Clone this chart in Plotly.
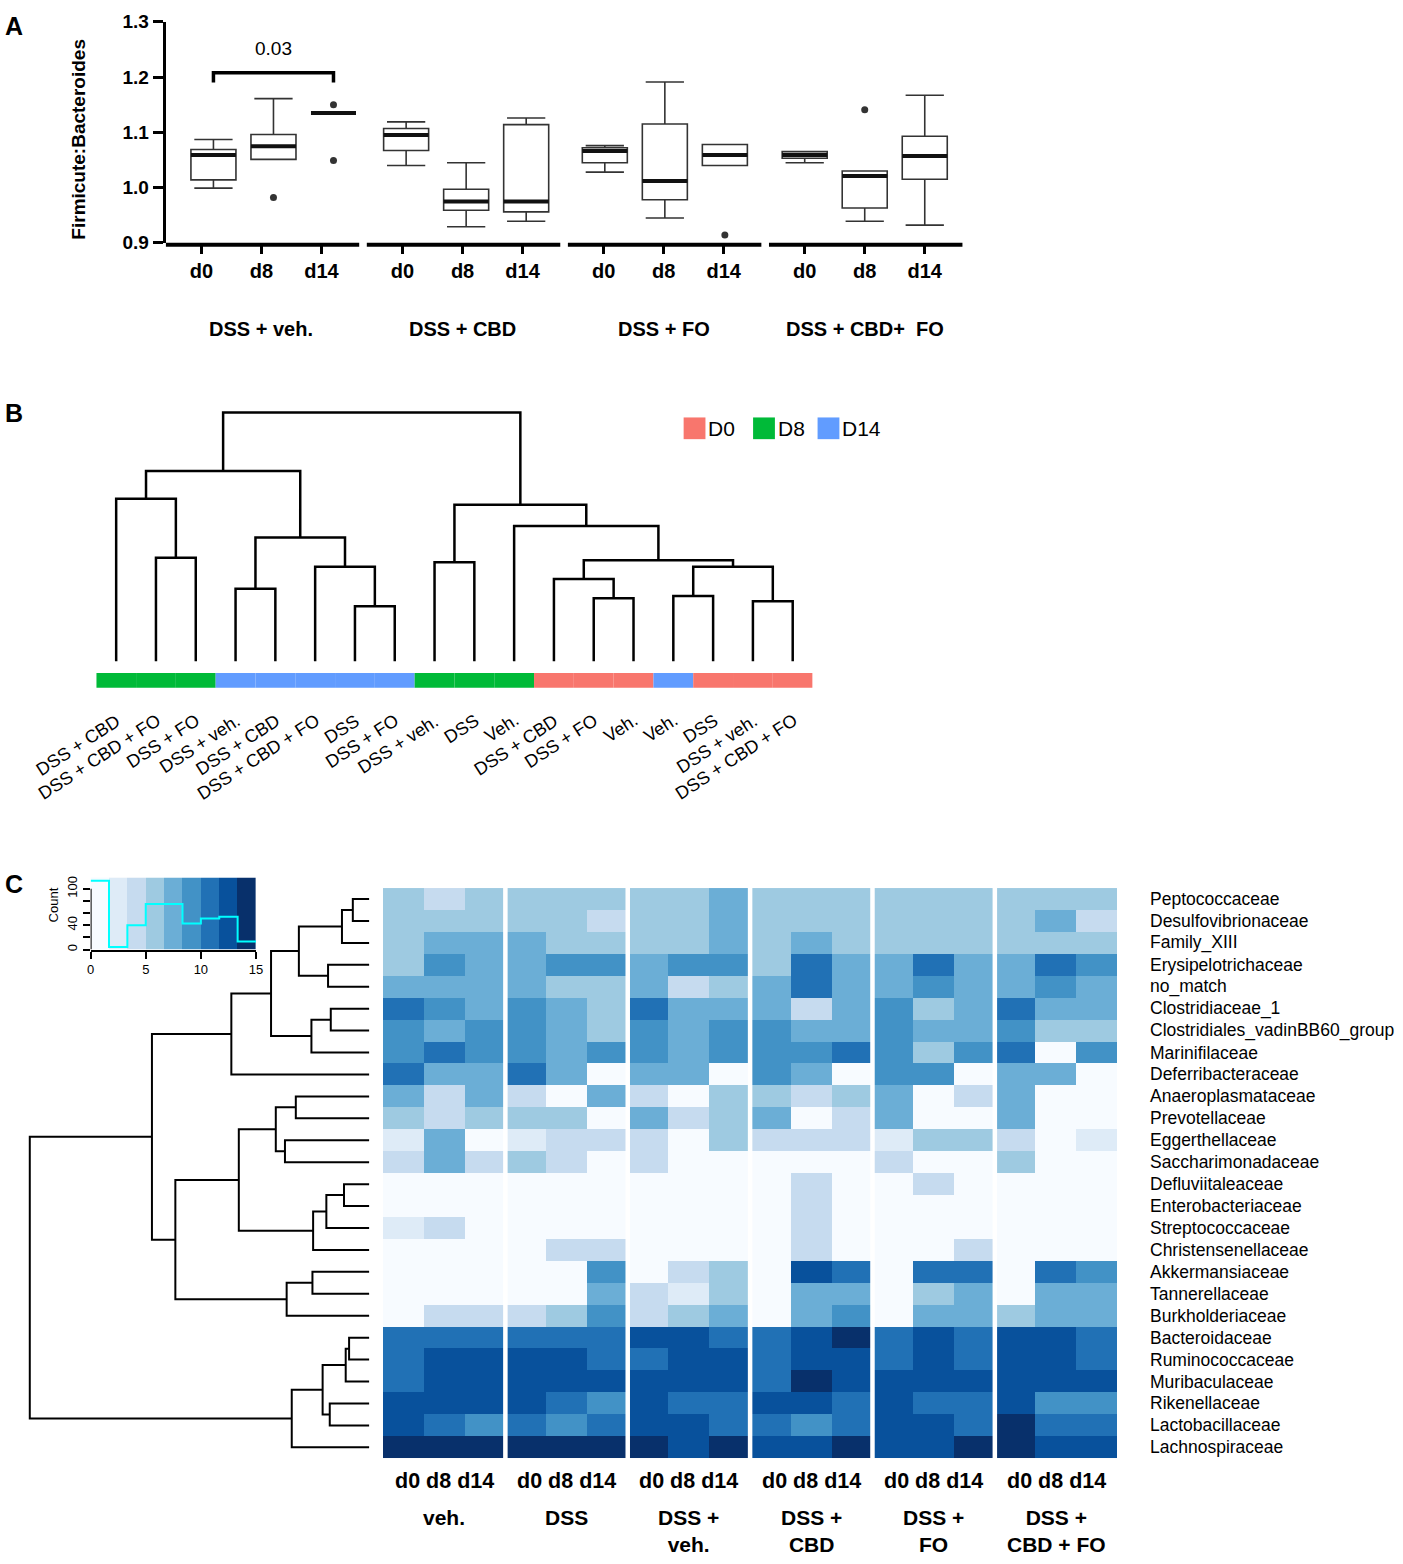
import plotly.graph_objects as go

W, H = 1403, 1564
FONT = "Liberation Sans, Arial, sans-serif"


def px(x):
    return x / W


def py(y):
    return 1 - y / H


# ---------------- Panel A data ----------------
A_groups = ["DSS + veh.", "DSS + CBD", "DSS + FO", "DSS + CBD+\u00a0 FO"]
A_days = ["d0", "d8", "d14"]
A_upper = [1.087, 1.161, 1.135, 1.119, 1.045, 1.126, 1.076, 1.191, 1.078, 1.065, 1.030, 1.167]
A_q3 = [1.069, 1.096, 1.135, 1.107, 0.997, 1.114, 1.072, 1.115, 1.078, 1.065, 1.030, 1.093]
A_median = [1.059, 1.075, 1.135, 1.095, 0.975, 0.975, 1.066, 1.012, 1.059, 1.059, 1.021, 1.057]
A_q1 = [1.014, 1.051, 1.135, 1.067, 0.959, 0.956, 1.045, 0.978, 1.040, 1.053, 0.963, 1.015]
A_lower = [0.999, 1.051, 1.135, 1.040, 0.929, 0.939, 1.028, 0.945, 1.040, 1.045, 0.939, 0.932]
A_outlier_box = [1, 2, 2, 8, 10]
A_outlier_val = [0.982, 1.150, 1.049, 0.914, 1.141]
A_yticks = [0.9, 1.0, 1.1, 1.2, 1.3]
A_pvalue = "0.03"
A_pair = [0, 2]

# ---------------- Panel B data ----------------
B_labels = ["DSS + CBD", "DSS + CBD + FO", "DSS + FO", "DSS + veh.", "DSS + CBD",
            "DSS + CBD + FO", "DSS", "DSS + FO", "DSS + veh.", "DSS", "Veh.",
            "DSS + CBD", "DSS + FO", "Veh.", "Veh.", "DSS", "DSS + veh.", "DSS + CBD + FO"]
B_days = ["D8", "D8", "D8", "D14", "D14", "D14", "D14", "D14", "D8", "D8", "D8",
          "D0", "D0", "D0", "D14", "D0", "D0", "D0"]
B_merge = [(-2, -3), (-1, 1), (-4, -5), (-7, -8), (-6, 4), (3, 5), (2, 6), (-9, -10),
           (-13, -14), (-12, 9), (-15, -16), (-17, -18), (11, 12), (10, 13), (-11, 14),
           (8, 15), (7, 16)]
B_height = [4.16, 6.53, 2.91, 2.21, 3.80, 4.97, 7.65, 3.98, 2.53, 3.30, 2.62, 2.41,
            3.80, 4.06, 5.44, 6.29, 10.0]
B_day_names = ["D0", "D8", "D14"]
B_day_colors = {"D0": "#F8766D", "D8": "#00BA38", "D14": "#619CFF"}

# ---------------- Panel C data ----------------
C_rows = ["Peptococcaceae", "Desulfovibrionaceae", "Family_XIII", "Erysipelotrichaceae",
          "no_match", "Clostridiaceae_1", "Clostridiales_vadinBB60_group", "Marinifilaceae",
          "Deferribacteraceae", "Anaeroplasmataceae", "Prevotellaceae", "Eggerthellaceae",
          "Saccharimonadaceae", "Defluviitaleaceae", "Enterobacteriaceae", "Streptococcaceae",
          "Christensenellaceae", "Akkermansiaceae", "Tannerellaceae", "Burkholderiaceae",
          "Bacteroidaceae", "Ruminococcaceae", "Muribaculaceae", "Rikenellaceae",
          "Lactobacillaceae", "Lachnospiraceae"]
C_groups = ["veh.", "DSS", "DSS +<br>veh.", "DSS +<br>CBD", "DSS +<br>FO", "DSS +<br>CBD + FO"]
C_days = "d0 d8 d14"
# log-abundance values (0-15 scale), columns: 6 groups x (d0, d8, d14)
C_values = [
    [5.8, 4.2, 5.8, 5.8, 5.8, 5.8, 5.8, 5.8, 7.6, 5.8, 5.8, 5.8, 5.8, 5.8, 5.8, 5.8, 5.8, 5.8],
    [5.8, 5.8, 5.8, 5.8, 5.8, 4.2, 5.8, 5.8, 7.6, 5.8, 5.8, 5.8, 5.8, 5.8, 5.8, 5.8, 7.6, 4.2],
    [5.8, 7.6, 7.6, 7.6, 5.8, 5.8, 5.8, 5.8, 7.6, 5.8, 7.6, 5.8, 5.8, 5.8, 5.8, 5.8, 5.8, 5.8],
    [5.8, 9.2, 7.6, 7.6, 9.2, 9.2, 7.6, 9.2, 9.2, 5.8, 10.9, 7.6, 7.6, 10.9, 7.6, 7.6, 10.9, 9.2],
    [7.6, 7.6, 7.6, 7.6, 5.8, 5.8, 7.6, 4.2, 5.8, 7.6, 10.9, 7.6, 7.6, 9.2, 7.6, 7.6, 9.2, 7.6],
    [10.9, 9.2, 7.6, 9.2, 7.6, 5.8, 10.9, 7.6, 7.6, 7.6, 4.2, 7.6, 9.2, 5.8, 7.6, 10.9, 7.6, 7.6],
    [9.2, 7.6, 9.2, 9.2, 7.6, 5.8, 9.2, 7.6, 9.2, 9.2, 7.6, 7.6, 9.2, 7.6, 7.6, 9.2, 5.8, 5.8],
    [9.2, 10.9, 9.2, 9.2, 7.6, 9.2, 9.2, 7.6, 9.2, 9.2, 9.2, 10.9, 9.2, 5.8, 9.2, 10.9, 0.6, 9.2],
    [10.9, 7.6, 7.6, 10.9, 7.6, 0.6, 7.6, 7.6, 0.6, 9.2, 7.6, 0.6, 9.2, 9.2, 0.6, 7.6, 7.6, 0.6],
    [7.6, 4.2, 7.6, 4.2, 0.6, 7.6, 4.2, 0.6, 5.8, 5.8, 4.2, 5.8, 7.6, 0.6, 4.2, 7.6, 0.6, 0.6],
    [5.8, 4.2, 5.8, 5.8, 5.8, 0.6, 7.6, 4.2, 5.8, 7.6, 0.6, 4.2, 7.6, 0.6, 0.6, 7.6, 0.6, 0.6],
    [2.4, 7.6, 0.6, 2.4, 4.2, 4.2, 4.2, 0.6, 5.8, 4.2, 4.2, 4.2, 2.4, 5.8, 5.8, 4.2, 0.6, 2.4],
    [4.2, 7.6, 4.2, 5.8, 4.2, 0.6, 4.2, 0.6, 0.6, 0.6, 0.6, 0.6, 4.2, 0.6, 0.6, 5.8, 0.6, 0.6],
    [0.6, 0.6, 0.6, 0.6, 0.6, 0.6, 0.6, 0.6, 0.6, 0.6, 4.2, 0.6, 0.6, 4.2, 0.6, 0.6, 0.6, 0.6],
    [0.6, 0.6, 0.6, 0.6, 0.6, 0.6, 0.6, 0.6, 0.6, 0.6, 4.2, 0.6, 0.6, 0.6, 0.6, 0.6, 0.6, 0.6],
    [2.4, 4.2, 0.6, 0.6, 0.6, 0.6, 0.6, 0.6, 0.6, 0.6, 4.2, 0.6, 0.6, 0.6, 0.6, 0.6, 0.6, 0.6],
    [0.6, 0.6, 0.6, 0.6, 4.2, 4.2, 0.6, 0.6, 0.6, 0.6, 4.2, 0.6, 0.6, 0.6, 4.2, 0.6, 0.6, 0.6],
    [0.6, 0.6, 0.6, 0.6, 0.6, 9.2, 0.6, 4.2, 5.8, 0.6, 12.6, 10.9, 0.6, 10.9, 10.9, 0.6, 10.9, 9.2],
    [0.6, 0.6, 0.6, 0.6, 0.6, 7.6, 4.2, 2.4, 5.8, 0.6, 7.6, 7.6, 0.6, 5.8, 7.6, 0.6, 7.6, 7.6],
    [0.6, 4.2, 4.2, 4.2, 5.8, 9.2, 4.2, 5.8, 7.6, 0.6, 7.6, 9.2, 0.6, 7.6, 7.6, 5.8, 7.6, 7.6],
    [10.9, 10.9, 10.9, 10.9, 10.9, 10.9, 12.6, 12.6, 10.9, 10.9, 12.6, 14.2, 10.9, 12.6, 10.9, 12.6, 12.6, 10.9],
    [10.9, 12.6, 12.6, 12.6, 12.6, 10.9, 10.9, 12.6, 12.6, 10.9, 12.6, 12.6, 10.9, 12.6, 10.9, 12.6, 12.6, 10.9],
    [10.9, 12.6, 12.6, 12.6, 12.6, 12.6, 12.6, 12.6, 12.6, 10.9, 14.2, 12.6, 12.6, 12.6, 12.6, 12.6, 12.6, 12.6],
    [12.6, 12.6, 12.6, 12.6, 10.9, 9.2, 12.6, 10.9, 10.9, 12.6, 12.6, 10.9, 12.6, 10.9, 10.9, 12.6, 9.2, 9.2],
    [12.6, 10.9, 9.2, 10.9, 9.2, 10.9, 12.6, 12.6, 10.9, 10.9, 9.2, 10.9, 12.6, 12.6, 10.9, 14.2, 10.9, 10.9],
    [14.2, 14.2, 14.2, 14.2, 14.2, 14.2, 14.2, 12.6, 14.2, 12.6, 12.6, 14.2, 12.6, 12.6, 14.2, 14.2, 12.6, 12.6],
]
C_merge = [(-1, -2), (1, -3), (-4, -5), (2, 3), (-6, -7), (5, -8), (4, 6), (7, -9),
           (-10, -11), (-12, -13), (9, 10), (-14, -15), (12, -16), (13, -17), (11, 14),
           (-18, -19), (16, -20), (15, 17), (8, 18), (-21, -22), (20, -23), (-24, -25),
           (21, 22), (23, -26), (19, 24)]
C_height = [0.48, 0.80, 1.21, 2.07, 1.13, 1.70, 2.89, 4.06, 2.16, 2.48, 2.75, 0.74, 1.26,
            1.65, 3.84, 1.67, 2.43, 5.71, 6.40, 0.59, 0.69, 1.16, 1.37, 2.28, 10.0]
KEY_BREAKS = [0, 1.667, 3.333, 5, 6.667, 8.333, 10, 11.667, 13.333, 15]
KEY_COUNTS = [113, 4, 40, 75, 75, 43, 51, 54, 13]
KEY_XTICKS = [0, 5, 10, 15]
KEY_YTICKS = [0, 20, 40, 60, 80, 100]
KEY_YTEXT = ["0", "", "40", "", "", "100"]
BLUES9 = ["#f7fbff", "#deebf7", "#c6dbef", "#9ecae1", "#6baed6",
          "#4292c6", "#2171b5", "#08519c", "#08306b"]

# ---------------- helpers ----------------
def dendro(merges, heights):
    pos, hgt = {}, {}

    def get(ref):
        if ref < 0:
            return -ref - 1, 0.0
        return pos[ref], hgt[ref]

    p_list, h_list = [], []
    for k, ((a, b), h) in enumerate(zip(merges, heights), start=1):
        pa, ha = get(a)
        pb, hb = get(b)
        p_list += [pa, pa, pb, pb, None]
        h_list += [ha, h, h, hb, None]
        pos[k] = (pa + pb) / 2
        hgt[k] = h
    return p_list, h_list


colorscale = []
for k, c in enumerate(BLUES9):
    colorscale.append([k / 9, c])
    colorscale.append([(k + 1) / 9, c])

fig = go.Figure()
shapes = []
ann = []
BLACK = "black"


def note(**kw):
    kw.setdefault("xanchor", "center")
    kw.setdefault("yanchor", "middle")
    kw.setdefault("showarrow", False)
    ann.append(kw)


# ================= Panel A =================
GROUP_STEP = 3.35
UNIT_PX = 60.5
BOX_SHIFT = [0.2, 0.06, 0.02, 0.0]
BOX_W = 0.75
tick_x = [g * GROUP_STEP + t for g in range(len(A_groups)) for t in range(len(A_days))]
box_x = [tick_x[i] + BOX_SHIFT[i // 3] for i in range(len(tick_x))]

fig.add_trace(go.Box(
    x=box_x, q1=A_q1, median=A_median, q3=A_q3, lowerfence=A_lower, upperfence=A_upper,
    width=BOX_W, whiskerwidth=0.85, fillcolor="white", boxpoints=False,
    line=dict(color="#333333", width=1.6), xaxis="x", yaxis="y",
    showlegend=False, hoverinfo="skip"))

mx, my = [], []
for bx, m in zip(box_x, A_median):
    mx += [bx - BOX_W / 2, bx + BOX_W / 2, None]
    my += [m, m, None]
fig.add_trace(go.Scatter(x=mx, y=my, mode="lines", line=dict(color="#111111", width=4),
                         xaxis="x", yaxis="y", showlegend=False, hoverinfo="skip"))

fig.add_trace(go.Scatter(x=[box_x[i] for i in A_outlier_box], y=A_outlier_val, mode="markers",
                         marker=dict(color="#333333", size=7), xaxis="x", yaxis="y",
                         showlegend=False, hoverinfo="skip"))

bx0, bx1 = box_x[A_pair[0]], box_x[A_pair[1]]
fig.add_trace(go.Scatter(x=[bx0, bx0, bx1, bx1], y=[1.19, 1.208, 1.208, 1.19], mode="lines",
                         line=dict(color=BLACK, width=3.5), xaxis="x", yaxis="y",
                         showlegend=False, hoverinfo="skip"))
note(x=(bx0 + bx1) / 2, y=1.251, xref="x", yref="y", text=A_pvalue,
     font=dict(size=19, color=BLACK, family=FONT))

for g, name in enumerate(A_groups):
    x0 = g * GROUP_STEP - 0.595
    x1 = g * GROUP_STEP + 2.628
    shapes.append(dict(type="line", xref="x", yref="paper", x0=x0, x1=x1,
                       y0=py(238), y1=py(238), line=dict(color=BLACK, width=4)))
    note(x=g * GROUP_STEP + 1, y=py(323), xref="x", yref="paper", text=name,
         font=dict(size=20, color=BLACK, family=FONT, weight="bold"))

note(x=px(75), y=py(131), xref="paper", yref="paper", text="Firmicute:Bacteroides",
     textangle=-90, font=dict(size=19, color=BLACK, family=FONT, weight="bold"))

# ================= Panel B =================
bp, bh = dendro(B_merge, B_height)
fig.add_trace(go.Scatter(x=bp, y=bh, mode="lines", line=dict(color=BLACK, width=2.5),
                         xaxis="x2", yaxis="y2", showlegend=False, hoverinfo="skip"))
for i, d in enumerate(B_days):
    shapes.append(dict(type="rect", xref="x2", yref="paper", x0=i - 0.5, x1=i + 0.5,
                       y0=py(687), y1=py(672), fillcolor=B_day_colors[d], line=dict(width=0)))
for i, lab in enumerate(B_labels):
    note(x=i + 0.27, y=py(707), xref="x2", yref="paper", text=lab, textangle=-33,
         xanchor="right", yanchor="top", font=dict(size=18, color=BLACK, family=FONT))
LEG_X = [685, 755, 820]
for d, lx in zip(B_day_names, LEG_X):
    shapes.append(dict(type="rect", xref="paper", yref="paper", x0=px(lx), x1=px(lx + 22),
                       y0=py(435), y1=py(413), fillcolor=B_day_colors[d], line=dict(width=0)))
    note(x=px(lx + 23), y=py(424), xref="paper", yref="paper", text=d, xanchor="left",
         font=dict(size=21, color=BLACK, family="Liberation Sans Narrow, " + FONT))

# ================= Panel C =================
ncol = len(C_values[0])
fig.add_trace(go.Heatmap(z=C_values, x=list(range(ncol)), y=list(range(len(C_rows))),
                         colorscale=colorscale, zmin=0, zmax=15, showscale=False,
                         xaxis="x3", yaxis="y3", hoverinfo="skip"))
for g in range(1, len(C_groups)):
    shapes.append(dict(type="line", xref="x3", yref="paper", x0=3 * g - 0.5, x1=3 * g - 0.5,
                       y0=py(1470), y1=py(888), line=dict(color="white", width=4.5)))
for i, r in enumerate(C_rows):
    note(x=px(1153), y=i, xref="paper", yref="y3", text=r, xanchor="left",
         font=dict(size=17.5, color=BLACK, family=FONT))
for g, name in enumerate(C_groups):
    note(x=3 * g + 1, y=py(1491.5), xref="x3", yref="paper", text=C_days,
         font=dict(size=21.5, color=BLACK, family=FONT, weight="bold"))
    note(x=3 * g + 1, y=py(1514), xref="x3", yref="paper", text=name, yanchor="top",
         font=dict(size=21, color=BLACK, family=FONT, weight="bold"))

cp, ch = dendro(C_merge, C_height)
fig.add_trace(go.Scatter(x=ch, y=cp, mode="lines", line=dict(color=BLACK, width=2),
                         xaxis="x4", yaxis="y4", showlegend=False, hoverinfo="skip"))

# colour key
key_mid = [(KEY_BREAKS[i] + KEY_BREAKS[i + 1]) / 2 for i in range(len(KEY_COUNTS))]
fig.add_trace(go.Heatmap(z=[key_mid], x=KEY_BREAKS, y=[0, 118.5], colorscale=colorscale,
                         zmin=0, zmax=15, showscale=False, xaxis="x5", yaxis="y5",
                         hoverinfo="skip"))
fig.add_trace(go.Scatter(x=KEY_BREAKS, y=KEY_COUNTS + [KEY_COUNTS[-1]], mode="lines",
                         line=dict(color="#00FFFF", width=2, shape="hv"),
                         xaxis="x5", yaxis="y5", showlegend=False, hoverinfo="skip"))
shapes.append(dict(type="line", xref="x5", yref="y5", x0=0, x1=0, y0=0, y1=100,
                   line=dict(color=BLACK, width=2)))
note(x=px(50), y=py(907), xref="paper", yref="paper", text="Count", textangle=-90,
     font=dict(size=13, color=BLACK, family=FONT))

# panel letters
for letter, ly in [("A", 16), ("B", 408), ("C", 886)]:
    note(x=px(10), y=py(ly), xref="paper", yref="paper", text=letter,
         font=dict(size=25, color=BLACK, family=FONT, weight="bold"))

hidden = dict(visible=False, showgrid=False, zeroline=False)
fig.update_layout(
    width=W, height=H, margin=dict(l=0, r=0, t=0, b=0),
    paper_bgcolor="white", plot_bgcolor="white", showlegend=False,
    font=dict(family=FONT, color=BLACK),
    xaxis=dict(domain=[px(163), px(968)],
               range=[(163 - 199) / UNIT_PX, (968 - 199) / UNIT_PX],
               tickvals=tick_x, ticktext=A_days * len(A_groups), ticks="outside",
               ticklen=10, tickwidth=3, tickcolor=BLACK, showline=False, showgrid=False,
               zeroline=False, anchor="y",
               tickfont=dict(size=20, color=BLACK, family=FONT, weight="bold")),
    yaxis=dict(domain=[py(236), py(12)], range=[0.9, 1.3], tickvals=A_yticks,
               ticktext=[f"{v:.1f}" for v in A_yticks], ticks="outside", ticklen=10,
               tickwidth=3, tickcolor=BLACK, showline=True, linewidth=3, linecolor=BLACK,
               showgrid=False, zeroline=False, anchor="x",
               tickfont=dict(size=19, color=BLACK, family=FONT, weight="bold")),
    xaxis2=dict(domain=[px(93), px(815)], range=[-0.5, 17.5], anchor="y2", **hidden),
    yaxis2=dict(domain=[py(665), py(400)], range=[-0.198, 10.317], anchor="x2", **hidden),
    xaxis3=dict(domain=[px(382), px(1122)], range=[-0.5, 17.5], anchor="y3", **hidden),
    yaxis3=dict(domain=[py(1468), py(890)], range=[25.5, -0.5], anchor="x3", **hidden),
    xaxis4=dict(domain=[px(20), px(372)], range=[10.175, -0.117], anchor="y4", **hidden),
    yaxis4=dict(domain=[py(1468), py(890)], range=[25.5, -0.5], anchor="x4", **hidden),
    xaxis5=dict(domain=[px(87.3), px(254)], range=[0, 15], anchor="y5", tickvals=KEY_XTICKS,
                ticks="outside", ticklen=7, tickwidth=2, tickcolor=BLACK, showline=True,
                linewidth=2, linecolor=BLACK, showgrid=False, zeroline=False,
                tickfont=dict(size=13, color=BLACK, family=FONT)),
    yaxis5=dict(domain=[py(952.3), py(879.3)], range=[0, 118.5], anchor="x5",
                tickvals=KEY_YTICKS, ticktext=KEY_YTEXT, tickangle=-90, ticks="outside",
                ticklen=7, tickwidth=2, tickcolor=BLACK, showline=False, showgrid=False,
                zeroline=False, tickfont=dict(size=13, color=BLACK, family=FONT)),
    shapes=shapes, annotations=ann,
)

fig.write_html("out.html", config={"displayModeBar": False},
               post_script="document.body.style.margin='0';"
                           "document.documentElement.style.overflow='hidden';")
